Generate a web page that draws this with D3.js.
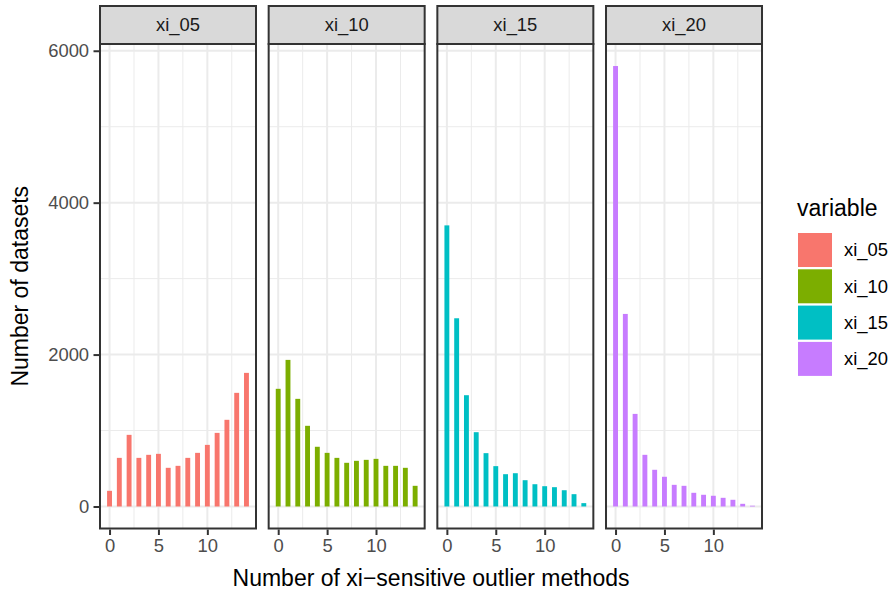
<!DOCTYPE html>
<html>
<head>
<meta charset="utf-8">
<script src="https://cdn.jsdelivr.net/npm/d3@7"></script>
<style>
  body { margin: 0; background: #fff; }
  text { font-family: "Liberation Sans", Arial, sans-serif; }
</style>
</head>
<body>
<div id="chart"></div>
<script>
// number of xi-sensitive outlier methods (x) and counts per panel
var methods = [0, 1, 2, 3, 4, 5, 6, 7, 8, 9, 10, 11, 12, 13, 14];
var variables = ["xi_05", "xi_10", "xi_15", "xi_20"];
var xi_05 = [206, 640, 943, 640, 680, 693, 509, 535, 640, 706, 811, 969, 1141, 1496, 1759];
var xi_10 = [1549, 1930, 1417, 1062, 786, 706, 640, 575, 601, 614, 627, 535, 535, 509, 272];
var xi_15 = [3701, 2478, 1465, 978, 702, 531, 425, 438, 346, 293, 267, 254, 214, 162, 44];
var xi_20 = [5799, 2535, 1219, 680, 483, 391, 285, 272, 180, 154, 141, 114, 88, 35, 10];
var colors = ["#F8766D", "#7CAE00", "#00BFC4", "#C77CFF"];
var xTicks = [0, 5, 10];
var xMinor = [2.5, 7.5, 12.5];
var yTicks = [0, 2000, 4000, 6000];
var yMinor = [1000, 3000, 5000];

var counts = [xi_05, xi_10, xi_15, xi_20];

var width = 894, height = 591;
var panelLeft = 100, panelW = 156, panelGap = 12.67;
var panelTop = 44, panelBottom = 528.5;
var stripTop = 6;
var barWidth = 0.5;
var tickFont = "18.4px", titleFont = "23px";

var svg = d3.select("#chart").append("svg")
    .attr("width", width)
    .attr("height", height);

var allMax = d3.max(counts, function(c) { return d3.max(c); });
var yPad = allMax * 0.05;
var y = d3.scaleLinear()
    .domain([-yPad, allMax + yPad])
    .range([panelBottom, panelTop]);

var xPad = (methods.length - 1 + barWidth) * 0.05 + barWidth / 2;
var x = d3.scaleLinear()
    .domain([d3.min(methods) - xPad, d3.max(methods) + xPad])
    .range([0, panelW]);

variables.forEach(function(name, i) {
    var g = svg.append("g")
        .attr("transform", "translate(" + (panelLeft + i * (panelW + panelGap)) + ",0)");

    // minor grid
    g.selectAll(".ymin").data(yMinor).enter().append("line")
        .attr("x1", 0).attr("x2", panelW)
        .attr("y1", function(d) { return y(d); })
        .attr("y2", function(d) { return y(d); })
        .style("stroke", "#EBEBEB").style("stroke-width", 1);
    g.selectAll(".xmin").data(xMinor).enter().append("line")
        .attr("y1", panelTop).attr("y2", panelBottom)
        .attr("x1", function(d) { return x(d); })
        .attr("x2", function(d) { return x(d); })
        .style("stroke", "#EBEBEB").style("stroke-width", 1);
    // major grid
    g.selectAll(".ymaj").data(yTicks).enter().append("line")
        .attr("x1", 0).attr("x2", panelW)
        .attr("y1", function(d) { return y(d); })
        .attr("y2", function(d) { return y(d); })
        .style("stroke", "#EBEBEB").style("stroke-width", 2);
    g.selectAll(".xmaj").data(xTicks).enter().append("line")
        .attr("y1", panelTop).attr("y2", panelBottom)
        .attr("x1", function(d) { return x(d); })
        .attr("x2", function(d) { return x(d); })
        .style("stroke", "#EBEBEB").style("stroke-width", 2);

    // bars
    g.selectAll(".bar").data(counts[i]).enter().append("rect")
        .attr("x", function(d, j) { return x(methods[j] - barWidth / 2); })
        .attr("width", x(barWidth) - x(0))
        .attr("y", function(d) { return y(d); })
        .attr("height", function(d) { return y(0) - y(d); })
        .style("fill", colors[i]);

    // panel border
    g.append("rect")
        .attr("x", 0).attr("y", panelTop)
        .attr("width", panelW).attr("height", panelBottom - panelTop)
        .style("fill", "none").style("stroke", "#333333").style("stroke-width", 2);

    // strip
    g.append("rect")
        .attr("x", 0).attr("y", stripTop)
        .attr("width", panelW).attr("height", panelTop - stripTop)
        .style("fill", "#D9D9D9").style("stroke", "#333333").style("stroke-width", 2);
    g.append("text")
        .attr("x", panelW / 2)
        .attr("y", (stripTop + panelTop) / 2)
        .attr("dy", "0.35em")
        .style("text-anchor", "middle")
        .style("font-size", tickFont)
        .style("fill", "#1A1A1A")
        .text(name);

    // x axis
    var xAxis = d3.axisBottom(x).tickValues(xTicks).tickSize(5.5).tickPadding(4.4);
    var ax = g.append("g")
        .attr("transform", "translate(0," + (panelBottom + 1) + ")")
        .call(xAxis);
    ax.select(".domain").remove();
    ax.selectAll("line").style("stroke", "#333333").style("stroke-width", 2);
    ax.selectAll("text").style("font-size", tickFont).style("fill", "#4D4D4D")
        .style("font-family", "'Liberation Sans', Arial, sans-serif");

    if (i === 0) {
        var yAxis = d3.axisLeft(y).tickValues(yTicks).tickFormat(d3.format("d"))
            .tickSize(5.5).tickPadding(4.4);
        var ay = g.append("g")
            .attr("transform", "translate(-1,0)")
            .call(yAxis);
        ay.select(".domain").remove();
        ay.selectAll("line").style("stroke", "#333333").style("stroke-width", 2);
        ay.selectAll("text").style("font-size", tickFont).style("fill", "#4D4D4D")
            .style("font-family", "'Liberation Sans', Arial, sans-serif");
    }
});

// axis titles
var plotMid = panelLeft + (4 * panelW + 3 * panelGap) / 2;
svg.append("text")
    .attr("x", plotMid)
    .attr("y", 585.5)
    .style("text-anchor", "middle")
    .style("font-size", titleFont)
    .style("fill", "#000")
    .text("Number of xi\u2212sensitive outlier methods");

svg.append("text")
    .attr("transform", "translate(28," + (panelTop + panelBottom) / 2 + ") rotate(-90)")
    .style("text-anchor", "middle")
    .style("font-size", titleFont)
    .style("fill", "#000")
    .text("Number of datasets");

// legend
var legend = svg.append("g").attr("transform", "translate(797,0)");
legend.append("text")
    .attr("x", 0).attr("y", 216)
    .style("font-size", titleFont)
    .text("variable");

var item = legend.selectAll(".legend").data(variables).enter().append("g")
    .attr("class", "legend")
    .attr("transform", function(d, i) { return "translate(0," + (233 + i * 36.3) + ")"; });
item.append("rect")
    .attr("x", 1).attr("y", 0)
    .attr("width", 34).attr("height", 34)
    .style("fill", function(d, i) { return colors[i]; });
item.append("text")
    .attr("x", 47).attr("y", 17)
    .attr("dy", "0.35em")
    .style("font-size", tickFont)
    .style("fill", "#000")
    .text(function(d) { return d; });
</script>
</body>
</html>
